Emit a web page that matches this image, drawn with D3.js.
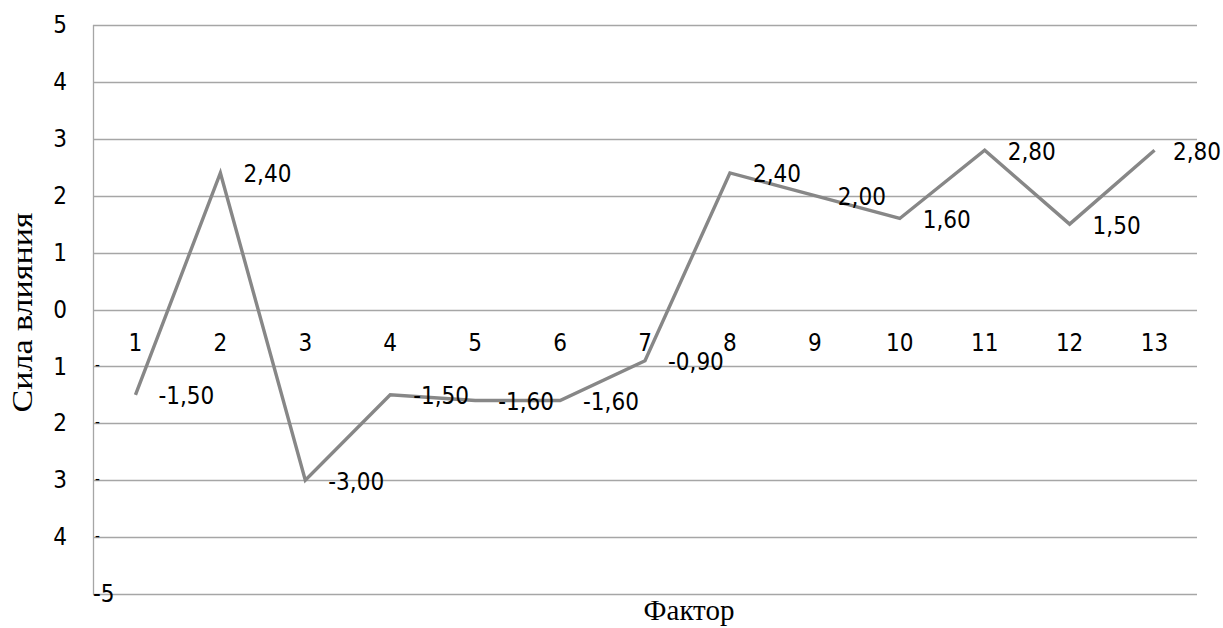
<!DOCTYPE html>
<html><head><meta charset="utf-8">
<script src="https://cdn.jsdelivr.net/npm/d3@7"></script>
<style>
body{margin:0;background:#fff;}
text{font-family:"DejaVu Sans Condensed","DejaVu Sans",sans-serif;font-stretch:condensed;}
.serif{font-family:"Liberation Serif","Times New Roman",serif;font-stretch:normal;}
</style></head>
<body><svg id="c" width="1223" height="628"></svg>
<script>
const categories = ["1","2","3","4","5","6","7","8","9","10","11","12","13"];
const values = [-1.5, 2.4, -3.0, -1.5, -1.6, -1.6, -0.9, 2.4, 2.0, 1.6, 2.8, 1.5, 2.8];
const yTicks = [5,4,3,2,1,0,-1,-2,-3,-4,-5];
const yTitle = "Сила влияния";
const xTitle = "Фактор";

const svg = d3.select("#c");
const W = 1223;
const L = 93, R = 1197, T = 25, B = 594;
const x = d3.scaleBand().domain(categories).range([L, R]);
const y = d3.scaleLinear().domain([-5, 5]).range([B, T]);
const fs = 24;
const sansFam = '"DejaVu Sans Condensed","DejaVu Sans",sans-serif';

// gridlines
svg.append("g").selectAll("line").data(yTicks).join("line")
  .attr("x1", L).attr("x2", R)
  .attr("y1", d => Math.round(y(d)) + 0.5).attr("y2", d => Math.round(y(d)) + 0.5)
  .attr("stroke", "#a6a6a6").attr("stroke-width", 1.3);
// left axis line
svg.append("line").attr("x1", L + 0.5).attr("x2", L + 0.5).attr("y1", T).attr("y2", B + 0.5)
  .attr("stroke", "#a6a6a6").attr("stroke-width", 1.3);

// y axis tick labels
const yAxis = d3.axisLeft(y).tickValues(yTicks).tickSize(0).tickPadding(0)
  .tickFormat(d => d === -5 ? "" : String(Math.abs(d)));
const gy = svg.append("g").attr("transform", `translate(67,0)`).call(yAxis);
gy.select(".domain").remove();
gy.selectAll("text").attr("font-size", fs).attr("fill", "#000")
  .style("font-family", sansFam).style("font-stretch", "condensed");
// displaced minus signs
svg.append("g").selectAll("text").data(yTicks.filter(d => d < 0 && d > -5)).join("text")
  .attr("x", 95).attr("y", d => y(d) - 1).attr("font-size", 15).attr("fill", "#000")
  .attr("dominant-baseline", "middle").text("-");
svg.append("text").attr("x", 93).attr("y", y(-5)).attr("dy", "0.35em")
  .attr("font-size", fs).attr("fill", "#000").text("-5");

// category labels at zero line
svg.append("g").selectAll("text").data(categories).join("text")
  .attr("x", d => x(d) + x.bandwidth() / 2).attr("y", y(0) + 33).attr("dy", "0.35em")
  .attr("text-anchor", "middle").attr("font-size", fs).attr("fill", "#000").text(d => d);

// line
const line = d3.line().x((d, i) => x(categories[i]) + x.bandwidth() / 2).y(d => y(d));
svg.append("path").datum(values).attr("d", line).attr("fill", "none")
  .attr("stroke", "#878787").attr("stroke-width", 3.4).attr("stroke-linejoin", "miter");

// data labels (shifted left if they would run off the page)
svg.append("g").selectAll("text").data(values).join("text")
  .attr("x", (d, i) => x(categories[i]) + x.bandwidth() / 2 + 23)
  .attr("y", d => y(d) + 1).attr("dy", "0.35em")
  .attr("font-size", fs).attr("fill", "#000")
  .text(d => d.toFixed(2).replace(".", ","))
  .each(function () {
    const el = d3.select(this);
    const w = this.getComputedTextLength();
    const x0 = +el.attr("x");
    if (x0 + w > W - 2) el.attr("x", W - 2 - w);
  });

// titles
svg.append("text").attr("class", "serif")
  .attr("transform", `translate(32,${(T + B) / 2 + 3}) rotate(-90)`)
  .attr("text-anchor", "middle").attr("font-size", 29).attr("fill", "#000")
  .attr("textLength", 200).attr("lengthAdjust", "spacingAndGlyphs").text(yTitle);
svg.append("text").attr("class", "serif")
  .attr("x", 689).attr("y", 620).attr("text-anchor", "middle")
  .attr("font-size", 29).attr("fill", "#000").text(xTitle);
</script></body></html>
